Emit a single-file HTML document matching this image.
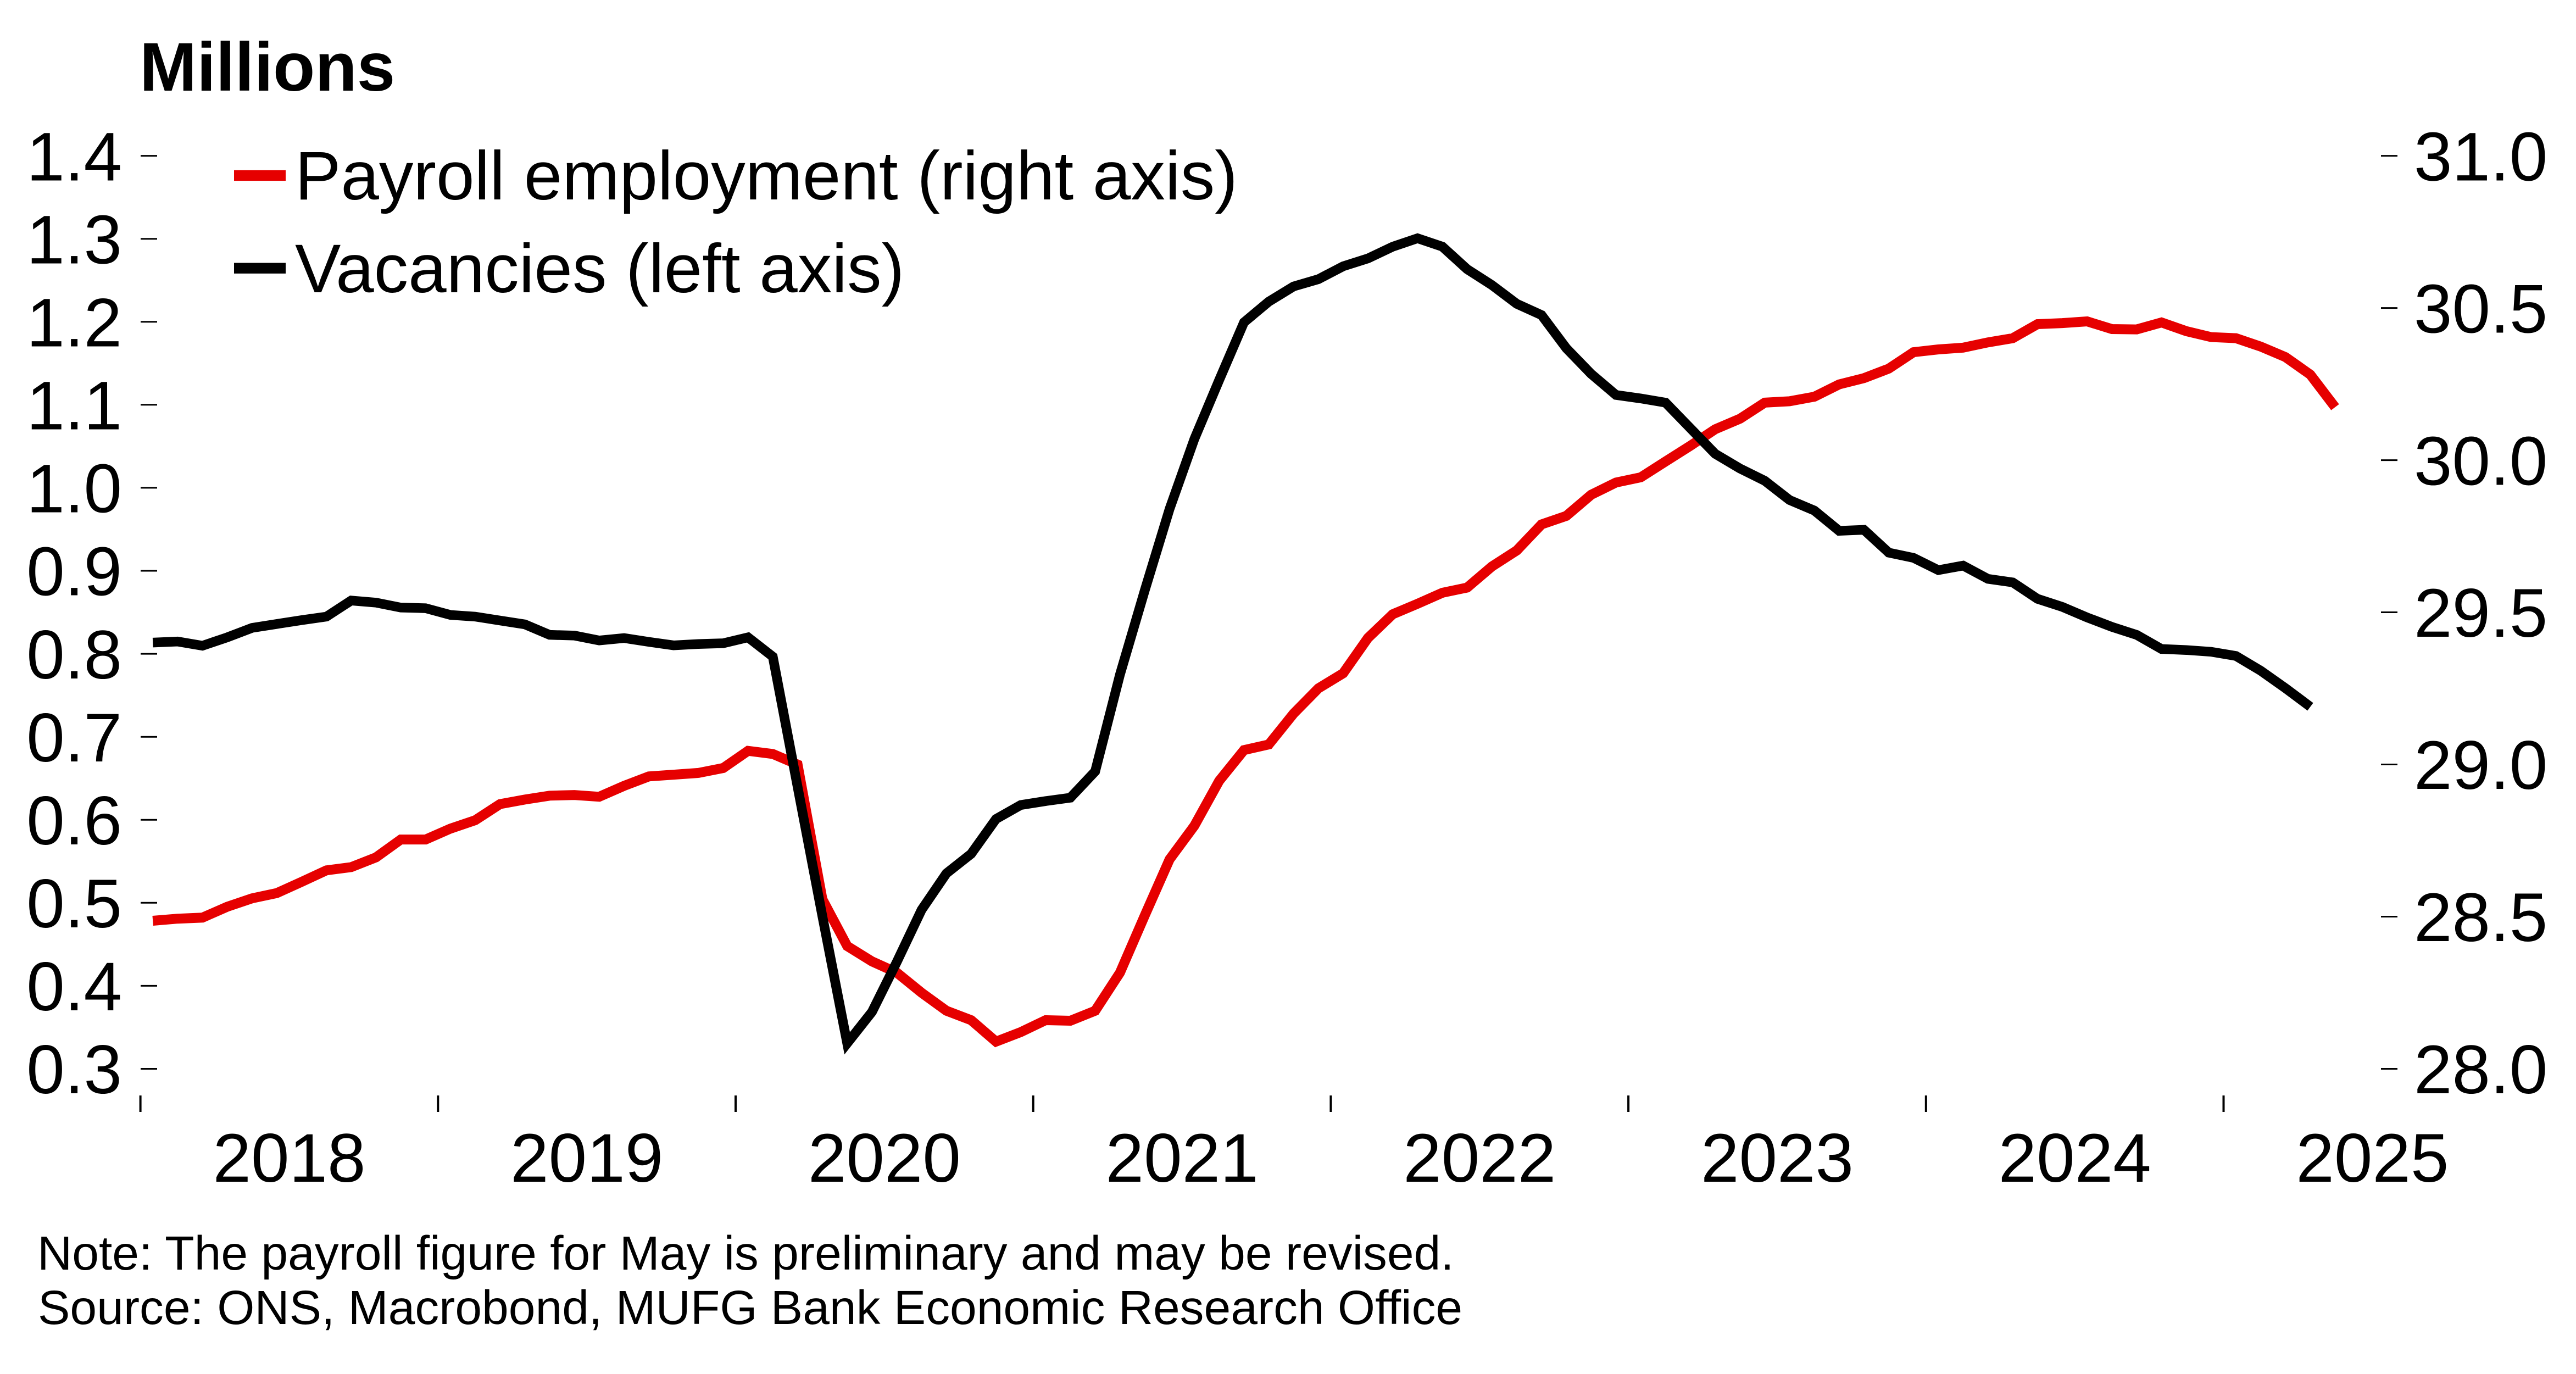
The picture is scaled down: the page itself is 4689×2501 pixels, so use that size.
<!DOCTYPE html>
<html>
<head>
<meta charset="utf-8">
<style>
html,body{margin:0;padding:0;background:#fff;}
svg{display:block;}
text{font-family:"Liberation Sans",Arial,sans-serif;fill:#000;}
</style>
</head>
<body>
<svg width="4689" height="2501" viewBox="0 0 4689 2501" xmlns="http://www.w3.org/2000/svg">
<rect x="0" y="0" width="4689" height="2501" fill="#fff"/>

<!-- Title -->
<text x="254" y="165" font-size="125" font-weight="bold">Millions</text>

<!-- Left axis ticks and labels -->
<g stroke="#000" stroke-width="3">
<line x1="256" y1="283.6" x2="286" y2="283.6"/>
<line x1="256" y1="434.7" x2="286" y2="434.7"/>
<line x1="256" y1="585.8" x2="286" y2="585.8"/>
<line x1="256" y1="736.8" x2="286" y2="736.8"/>
<line x1="256" y1="887.9" x2="286" y2="887.9"/>
<line x1="256" y1="1039.0" x2="286" y2="1039.0"/>
<line x1="256" y1="1190.1" x2="286" y2="1190.1"/>
<line x1="256" y1="1341.2" x2="286" y2="1341.2"/>
<line x1="256" y1="1492.2" x2="286" y2="1492.2"/>
<line x1="256" y1="1643.3" x2="286" y2="1643.3"/>
<line x1="256" y1="1794.4" x2="286" y2="1794.4"/>
<line x1="256" y1="1945.5" x2="286" y2="1945.5"/>
</g>
<g font-size="125" text-anchor="end">
<text x="222" y="328.3">1.4</text>
<text x="222" y="479.4">1.3</text>
<text x="222" y="630.5">1.2</text>
<text x="222" y="781.5">1.1</text>
<text x="222" y="932.6">1.0</text>
<text x="222" y="1083.7">0.9</text>
<text x="222" y="1234.8">0.8</text>
<text x="222" y="1385.9">0.7</text>
<text x="222" y="1536.9">0.6</text>
<text x="222" y="1688.0">0.5</text>
<text x="222" y="1839.1">0.4</text>
<text x="222" y="1990.2">0.3</text>
</g>

<!-- Right axis ticks and labels -->
<g stroke="#000" stroke-width="3">
<line x1="4334" y1="283.6" x2="4364" y2="283.6"/>
<line x1="4334" y1="560.6" x2="4364" y2="560.6"/>
<line x1="4334" y1="837.6" x2="4364" y2="837.6"/>
<line x1="4334" y1="1114.5" x2="4364" y2="1114.5"/>
<line x1="4334" y1="1391.5" x2="4364" y2="1391.5"/>
<line x1="4334" y1="1668.5" x2="4364" y2="1668.5"/>
<line x1="4334" y1="1945.5" x2="4364" y2="1945.5"/>
</g>
<g font-size="125">
<text x="4394" y="328.3">31.0</text>
<text x="4394" y="605.3">30.5</text>
<text x="4394" y="882.3">30.0</text>
<text x="4394" y="1159.2">29.5</text>
<text x="4394" y="1436.2">29.0</text>
<text x="4394" y="1713.2">28.5</text>
<text x="4394" y="1990.2">28.0</text>
</g>

<!-- X axis ticks and labels -->
<g stroke="#000" stroke-width="4">
<line x1="255.6" y1="1994" x2="255.6" y2="2024"/>
<line x1="797.3" y1="1994" x2="797.3" y2="2024"/>
<line x1="1339.0" y1="1994" x2="1339.0" y2="2024"/>
<line x1="1880.7" y1="1994" x2="1880.7" y2="2024"/>
<line x1="2422.4" y1="1994" x2="2422.4" y2="2024"/>
<line x1="2964.1" y1="1994" x2="2964.1" y2="2024"/>
<line x1="3505.8" y1="1994" x2="3505.8" y2="2024"/>
<line x1="4047.5" y1="1994" x2="4047.5" y2="2024"/>
</g>
<g font-size="125" text-anchor="middle">
<text x="526.5" y="2151">2018</text>
<text x="1068.2" y="2151">2019</text>
<text x="1609.9" y="2151">2020</text>
<text x="2151.6" y="2151">2021</text>
<text x="2693.3" y="2151">2022</text>
<text x="3235.0" y="2151">2023</text>
<text x="3776.7" y="2151">2024</text>
<text x="4318.4" y="2151">2025</text>
</g>

<!-- Payroll (red) -->
<polyline fill="none" stroke="#e60000" stroke-width="18" stroke-linejoin="miter" stroke-linecap="butt" points="
278.2,1676 323.3,1672.2 368.5,1670.3 413.6,1650.5 458.8,1635.2 503.9,1625.6 549.0,1605.2 594.2,1584.2 639.3,1578.4 684.5,1560.6
729.6,1528.1 774.7,1528.1 819.9,1508.3 865.0,1493 910.2,1463.6 955.3,1455.4 1000.4,1448.3 1045.6,1447.1 1090.7,1450.3 1135.9,1430.5
1181.0,1413.3 1226.1,1410.1 1271.3,1406.9 1316.4,1398 1361.6,1366.7 1406.7,1372.4 1451.8,1391.6 1497.0,1637 1542.1,1722 1587.3,1750
1632.4,1770.4 1677.5,1807 1722.7,1839.8 1767.8,1857 1813.0,1896 1858.1,1878.6 1903.2,1857 1948.4,1858 1993.5,1839.8 2038.7,1770.4
2083.8,1666.3 2128.9,1564.3 2174.1,1503 2219.2,1421.4 2264.4,1365.3 2309.5,1355.1 2354.6,1299 2399.8,1253 2444.9,1225.5 2490.1,1161.2
2535.2,1118 2580.3,1099 2625.5,1079 2670.6,1069.5 2715.8,1031 2760.9,1002 2806.0,954.5 2851.2,939 2896.3,900.6 2941.5,878.3
2986.6,868.8 3031.7,840 3076.9,811.4 3122.0,781.4 3167.2,762.2 3212.3,732.9 3257.4,730.4 3302.6,722.1 3347.7,699.7 3392.9,688.3
3438.0,671 3483.1,641.1 3528.3,636 3573.4,632.8 3618.6,623.2 3663.7,615.6 3708.8,590 3754.0,588.1 3799.1,585 3844.3,599
3889.4,599.6 3934.5,586.9 3979.7,602.8 4024.8,613.6 4070.0,615.6 4115.1,630.9 4160.2,650 4205.4,681.9 4250.5,741.2"/>

<!-- Vacancies (black) -->
<polyline fill="none" stroke="#000" stroke-width="17.5" stroke-linejoin="miter" stroke-linecap="butt" points="
278.2,1169.6 323.3,1167.7 368.5,1175.4 413.6,1160.1 458.8,1142.9 503.9,1135.8 549.0,1128.8 594.2,1122.4 639.3,1093.1 684.5,1096.9
729.6,1105.9 774.7,1107.1 819.9,1119.3 865.0,1122.4 910.2,1129.5 955.3,1136.5 1000.4,1155.6 1045.6,1156.9 1090.7,1165.8 1135.9,1161.4
1181.0,1168.4 1226.1,1174.7 1271.3,1172.2 1316.4,1170.9 1361.6,1160.1 1406.7,1195.2 1451.8,1432 1497.0,1668 1542.1,1899 1587.3,1841.8
1632.4,1751 1677.5,1656.1 1722.7,1589.8 1767.8,1554.1 1813.0,1490.8 1858.1,1465.3 1903.2,1458.2 1948.4,1452 1993.5,1404.1 2038.7,1227.6
2083.8,1074.5 2128.9,926.5 2174.1,799 2219.2,691.8 2264.4,586.7 2309.5,549 2354.6,521.4 2399.8,508.2 2444.9,484.7 2490.1,470.4
2535.2,449 2580.3,433.7 2625.5,449 2670.6,490 2715.8,519 2760.9,553 2806.0,573.5 2851.2,634 2896.3,680.6 2941.5,718.9
2986.6,725.3 3031.7,732.9 3076.9,779.5 3122.0,826 3167.2,852.8 3212.3,875.1 3257.4,910.2 3302.6,929.3 3347.7,966.3 3392.9,964.4
3438.0,1005.9 3483.1,1015.4 3528.3,1037.8 3573.4,1029.5 3618.6,1053.7 3663.7,1060.1 3708.8,1090 3754.0,1104.7 3799.1,1123.9 3844.3,1141.1
3889.4,1155.7 3934.5,1181.3 3979.7,1183.2 4024.8,1186.4 4070.0,1194 4115.1,1220.8 4160.2,1252.7 4205.4,1286.5"/>

<!-- Legend -->
<rect x="426" y="309.7" width="94" height="19.4" fill="#e60000"/>
<text x="537" y="363" font-size="125">Payroll employment (right axis)</text>
<rect x="426" y="478.5" width="94" height="19.4" fill="#000"/>
<text x="537" y="532" font-size="125">Vacancies (left axis)</text>

<!-- Footnotes -->
<text x="68" y="2311" font-size="87.6">Note: The payroll figure for May is preliminary and may be revised.</text>
<text x="69" y="2410" font-size="87.6">Source: ONS, Macrobond, MUFG Bank Economic Research Office</text>
</svg>
</body>
</html>
